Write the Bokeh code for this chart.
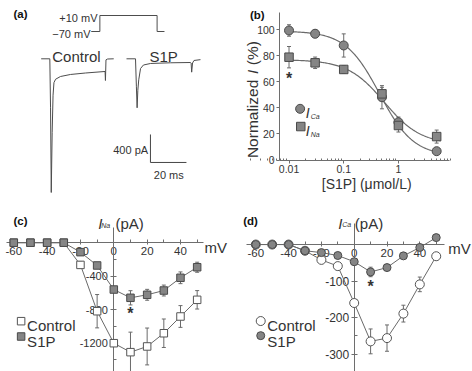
import numpy as np
from bokeh.plotting import figure
from bokeh.models import (ColumnDataSource, Whisker, TeeHead, FixedTicker,
                          LinearAxis, LogAxis, Range1d)
from bokeh.layouts import column, row
from bokeh.core.properties import value
from bokeh.embed import file_html
from bokeh.resources import INLINE

FONT = "Liberation Sans"
INK = "#333333"
AXIS = "#6e6e6e"
TRACE = "#4d4d4d"
LINE = "#6a6a6a"
FILL = "#858585"
EDGE = "#4a4a4a"

# ---------------- (a) current traces (ms, pA) and voltage protocol (mV) ----------------
ctrl_t = [22.6, 27.4, 27.8, 28.2, 28.7, 29.2, 29.7, 30.6, 33.3, 38.9, 47.2, 58.1, 58.3, 58.6, 59.5, 62.9]
ctrl_i = [0, 0, -700, -1910, -1050, -520, -340, -292, -253, -224, -203, -181, -310, -15, -3, 0]
s1p_t = [70.0, 75.0, 75.5, 75.9, 76.3, 76.8, 77.8, 79.4, 83.3, 94.4, 105.6, 105.9, 106.2, 106.7, 107.5, 111.1]
s1p_i = [0, 0, -400, -700, -450, -300, -139, -89, -67, -57, -53, -60, -191, -60, -24, -12]
step_t = [50.4, 55.2, 55.2, 87.0, 87.0, 91.1]
step_mv = [-70, -70, 10, 10, -70, -70]
bar_pa = 400
bar_ms = 20

# ---------------- (b) concentration dependence ----------------
conc = [0.01, 0.03, 0.1, 0.5, 1, 5]
ica_norm = [99.4, 96.9, 87.9, 48.2, 29.0, 6.8]
ica_norm_err = [4.4, 3.0, 8.9, 8.9, 4.0, 2.0]
ina_norm = [78.9, 74.6, 69.5, 50.8, 26.5, 18.0]
ina_norm_err = [8.2, 4.4, 3.0, 5.0, 5.0, 5.0]
ica_fit = dict(top=99.0, bottom=3.0, ic50=0.45, hill=1.4)
ina_fit = dict(top=77.0, bottom=12.0, ic50=0.55, hill=1.3)

# ---------------- (c), (d) current-voltage relations ----------------
volt = [-60, -50, -40, -30, -20, -10, 0, 10, 20, 30, 40, 50]
ina_ctrl = [0, 0, 0, 0, -265, -818, -1200, -1307, -1239, -1081, -881, -682]
ina_ctrl_err = [0, 0, 0, 0, 40, 199, 40, 239, 220, 170, 130, 110]
ina_s1p = [0, 0, 0, 0, -113, -272, -559, -658, -622, -571, -419, -293]
ina_s1p_err = [0, 0, 0, 0, 20, 30, 30, 85, 65, 65, 70, 60]
ica_ctrl = [0, 0, 0, -17, -42, -59, -160, -265, -256, -189, -109, -32]
ica_ctrl_err = [0, 0, 0, 0, 5, 8, 8, 34, 36, 23, 20, 5]
ica_s1p = [0, 0, 0, -17, -22, -30, -47, -75, -63, -31, -8, 19]
ica_s1p_err = [0, 0, 0, 0, 3, 4, 6, 13, 8, 5, 4, 6]

volt_ticks = [-60, -40, -20, 0, 20, 40]
volt_minor = [-50, -30, -10, 10, 30, 50]
ina_ticks = [-1600, -1200, -800, -400]
ina_minor = [-1400, -1000, -600, -200]
ica_ticks = [-300, -200, -100]
ica_minor = [-250, -150, -50]
conc_ticks = [0.01, 0.1, 1]
conc_minor = [m * d for d in (0.001, 0.01, 0.1, 1) for m in range(2, 10)]
norm_ticks = [0, 20, 40, 60, 80, 100]


def base_fig(w, h, xr, yr, log_x=False):
    p = figure(width=w, height=h, x_range=xr, y_range=yr,
               x_axis_type="log" if log_x else "linear",
               x_axis_location=None, y_axis_location=None,
               output_backend="svg", toolbar_location=None, min_border=0)
    p.grid.visible = False
    p.outline_line_color = None
    p.background_fill_color = "white"
    p.border_fill_color = "white"
    return p


def txt(p, x, y, s, size, align="left", style="normal", color=INK, angle=0.0, **kw):
    p.text(x=[x], y=[y], text=[s], text_font=value(FONT), text_font_size=value(size),
           text_align=align, text_baseline="alphabetic", text_font_style=style,
           text_color=color, angle=angle, **kw)


def style_axis(ax, size, tin, tout, min_in, min_out, standoff):
    ax.axis_line_color = AXIS
    ax.axis_line_width = 1
    ax.major_tick_line_color = AXIS
    ax.minor_tick_line_color = AXIS
    ax.major_tick_in = tin
    ax.major_tick_out = tout
    ax.minor_tick_in = min_in
    ax.minor_tick_out = min_out
    ax.major_label_text_font = FONT
    ax.major_label_text_font_size = size
    ax.major_label_text_color = INK
    ax.major_label_standoff = standoff
    ax.level = "underlay"


def labels_for(ticks):
    return {t: ("%g" % t) for t in ticks}


def error_bars(p, xs, ys, errs, head=4):
    keep = [i for i, e in enumerate(errs) if e > 0]
    src = ColumnDataSource(dict(x=[xs[i] for i in keep],
                                lo=[ys[i] - errs[i] for i in keep],
                                hi=[ys[i] + errs[i] for i in keep]))
    w = Whisker(base="x", lower="lo", upper="hi", source=src, dimension="height",
                line_color=LINE, line_width=1, level="underlay",
                upper_head=TeeHead(size=head, line_color=LINE, line_width=1),
                lower_head=TeeHead(size=head, line_color=LINE, line_width=1))
    p.add_layout(w)


# ======================= (a) =======================
pa = base_fig(236, 195, Range1d(0, 131.11), Range1d(-1952.9, 832.9))
pa.extra_y_ranges = {"volt": Range1d(-890, 85)}
pa.line(step_t, step_mv, line_color=TRACE, line_width=1, y_range_name="volt")
pa.line(ctrl_t, ctrl_i, line_color=TRACE, line_width=1)
pa.line(s1p_t, s1p_i, line_color=TRACE, line_width=1)
bar_t0, bar_i0 = 83.3, -1481
pa.line([bar_t0, bar_t0, bar_t0 + bar_ms], [bar_i0 + bar_pa, bar_i0, bar_i0],
        line_color="#444444", line_width=1)
txt(pa, 7.2, 634, "(a)", "11.5px", style="bold", color="#111111")
txt(pa, 53.9, -1.5, "+10 mV", "11px", align="right", y_range_name="volt")
txt(pa, 50.0, -81.5, "\u221270 mV", "11px", align="right", y_range_name="volt")
txt(pa, 42.2, 37, "Control", "15px", align="center")
txt(pa, 90.6, 37, "S1P", "15px", align="center")
txt(pa, 82.0, -1310, "%d pA" % bar_pa, "11px", align="right")
txt(pa, 93.5, -1653, "%d ms" % bar_ms, "11px", align="center")

# ======================= (b) =======================
pb = base_fig(236, 195, Range1d(10 ** -2.96, 10 ** 1.354), Range1d(-27.2, 122.4), log_x=True)
xb = LogAxis(fixed_location=0, bounds=(0.00676, 8.7),
             ticker=FixedTicker(ticks=conc_ticks, minor_ticks=conc_minor),
             major_label_overrides={0.01: "0.01", 0.1: "0.1", 1: "1"})
style_axis(xb, "10.5px", 0, 3, 2, 0, 2)
pb.add_layout(xb, "below")
yb = LinearAxis(fixed_location=0.00676, bounds=(0, 113),
                ticker=FixedTicker(ticks=norm_ticks, minor_ticks=[]),
                major_label_overrides=labels_for(norm_ticks))
style_axis(yb, "10.5px", 0, 3, 0, 0, 2)
pb.add_layout(yb, "left")


def hill(x, top, bottom, ic50, hill):
    return bottom + (top - bottom) / (1.0 + (x / ic50) ** hill)


fit_x = np.logspace(np.log10(0.009), np.log10(6.0), 160)
pb.line(fit_x, hill(fit_x, **ica_fit), line_color=LINE, line_width=1.2)
pb.line(fit_x, hill(fit_x, **ina_fit), line_color=LINE, line_width=1.2)
error_bars(pb, conc, ica_norm, ica_norm_err)
error_bars(pb, conc, ina_norm, ina_norm_err)
pb.scatter(conc, ica_norm, marker="circle", size=9, fill_color=FILL, line_color=EDGE, line_width=1)
pb.scatter(conc, ina_norm, marker="square", size=8.5, fill_color=FILL, line_color=EDGE, line_width=1)
# legend
pb.scatter([0.01595], [39.3], marker="circle", size=9, fill_color=FILL, line_color=EDGE)
pb.scatter([0.0164], [25.7], marker="square", size=8.5, fill_color=FILL, line_color=EDGE)
txt(pb, 0.0203, 35.9, "I", "14px", style="italic")
txt(pb, 0.0250, 33.6, "Ca", "7px", style="italic")
txt(pb, 0.0203, 22.1, "I", "14px", style="italic")
txt(pb, 0.0250, 19.6, "Na", "7px", style="italic")
txt(pb, 0.01, 62.2, "*", "16px", align="center", style="bold")
txt(pb, 0.001926, 111.3, "(b)", "11.5px", style="bold", color="#111111")
txt(pb, 0.263, -18.3, "[S1P] (\u03bcmol/L)", "14px", align="center")
# rotated y title
ylab_x = 0.00218
txt(pb, ylab_x, 1.5, "Normalized", "15.5px", angle=np.pi / 2)
txt(pb, ylab_x, 66.0, "I", "15.5px", style="italic", angle=np.pi / 2)
txt(pb, ylab_x, 72.8, "(%)", "15.5px", angle=np.pi / 2)

# ======================= (c) =======================
pc = base_fig(236, 176, Range1d(-67.97, 73.6), Range1d(-1537.9, 563.6))
xc = LinearAxis(fixed_location=0, bounds=(-64.4, 53.8),
                ticker=FixedTicker(ticks=volt_ticks, minor_ticks=volt_minor),
                major_label_overrides=labels_for(volt_ticks))
style_axis(xc, "11.5px", 3, 2, 3, 0, 2)
pc.add_layout(xc, "below")
yc = LinearAxis(fixed_location=0, bounds=(-1700, 185),
                ticker=FixedTicker(ticks=ina_ticks, minor_ticks=ina_minor),
                major_label_overrides=labels_for(ina_ticks))
style_axis(yc, "11px", 3, 3, 3, 0, 3)
pc.add_layout(yc, "left")
error_bars(pc, volt, ina_ctrl, ina_ctrl_err)
error_bars(pc, volt, ina_s1p, ina_s1p_err)
pc.line(volt, ina_ctrl, line_color=LINE, line_width=1)
pc.scatter(volt, ina_ctrl, marker="square", size=7.5, fill_color="white", line_color="#555555", line_width=1)
pc.line(volt, ina_s1p, line_color=LINE, line_width=1)
pc.scatter(volt, ina_s1p, marker="square", size=7.5, fill_color=FILL, line_color=EDGE, line_width=1)
pc.scatter([-55.6], [-937], marker="square", size=7.5, fill_color="white", line_color="#555555")
pc.scatter([-55.6], [-1120], marker="square", size=7.5, fill_color=FILL, line_color=EDGE)
txt(pc, -52.0, -988.6, "Control", "15px")
txt(pc, -52.0, -1176, "S1P", "15px")
txt(pc, 10, -843, "*", "16px", align="center", style="bold")
txt(pc, 54.4, -53.7, "mV", "15px")
txt(pc, -9.4, 225.7, "I", "15px", style="italic")
txt(pc, -7.6, 209, "Na", "7px", style="italic")
txt(pc, 1.0, 225.7, "(pA)", "15px")
txt(pc, -60.2, 259, "(c)", "11.5px", style="bold", color="#111111")

# ======================= (d) =======================
pd = base_fig(236, 176, Range1d(-71.77, 72.13), Range1d(-347.4, 134.2))
xd = LinearAxis(fixed_location=0, bounds=(-65.7, 55.2),
                ticker=FixedTicker(ticks=volt_ticks, minor_ticks=volt_minor),
                major_label_overrides=labels_for(volt_ticks))
style_axis(xd, "11.5px", 3, 2, 3, 0, 2)
pd.add_layout(xd, "below")
yd = LinearAxis(fixed_location=0, bounds=(-400, 57.5),
                ticker=FixedTicker(ticks=ica_ticks, minor_ticks=ica_minor),
                major_label_overrides=labels_for(ica_ticks))
style_axis(yd, "12px", 3, 3, 3, 0, 2)
pd.add_layout(yd, "left")
error_bars(pd, volt, ica_ctrl, ica_ctrl_err)
error_bars(pd, volt, ica_s1p, ica_s1p_err)
pd.line(volt, ica_ctrl, line_color=LINE, line_width=1)
pd.scatter(volt, ica_ctrl, marker="circle", size=9, fill_color="white", line_color="#555555", line_width=1)
pd.line(volt, ica_s1p, line_color=LINE, line_width=1)
pd.scatter(volt, ica_s1p, marker="circle", size=8, fill_color=FILL, line_color=EDGE, line_width=1)
pd.scatter([-57], [-209.3], marker="circle", size=9, fill_color="white", line_color="#555555")
pd.scatter([-57], [-249.3], marker="circle", size=8, fill_color=FILL, line_color=EDGE)
txt(pd, -53.0, -221.4, "Control", "15px")
txt(pd, -53.0, -264.1, "S1P", "15px")
txt(pd, 10, -114, "*", "16px", align="center", style="bold")
txt(pd, 57.3, -11, "mV", "15px")
txt(pd, -9.8, 57.5, "I", "15px", style="italic")
txt(pd, -7.3, 53.7, "Ca", "7px", style="italic")
txt(pd, 0.4, 57.5, "(pA)", "15px")
txt(pd, -67.7, 65.2, "(d)", "11.5px", style="bold", color="#111111")

layout = column(row(pa, pb), row(pc, pd))
open("out.html", "w").write(file_html(layout, INLINE))
